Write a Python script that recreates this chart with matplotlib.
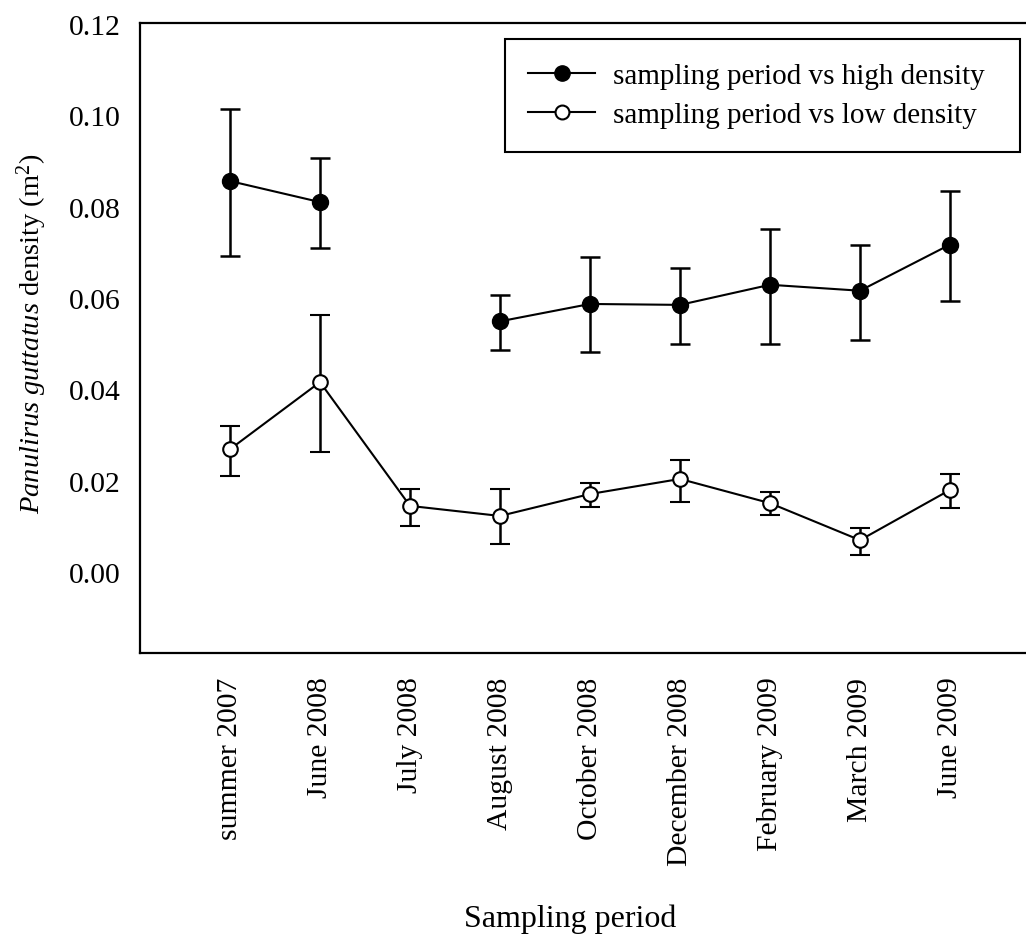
import numpy as np
import matplotlib
matplotlib.use("Agg")
import matplotlib.pyplot as plt
from matplotlib.lines import Line2D

plt.rcParams['font.family'] = ['Liberation Serif', 'DejaVu Serif']
plt.rcParams['mathtext.fontset'] = 'custom'
plt.rcParams['mathtext.rm'] = 'Liberation Serif'
plt.rcParams['mathtext.it'] = 'Liberation Serif:italic'

periods = ["summer 2007", "June 2008", "July 2008", "August 2008", "October 2008",
           "December 2008", "February 2009", "March 2009", "June 2009"]

high_mean = [0.0856, 0.0810, np.nan, 0.0549, 0.0587, 0.0585, 0.0629, 0.0616, 0.0717]
high_top = [0.1014, 0.0906, np.nan, 0.0607, 0.0689, 0.0666, 0.0751, 0.0717, 0.0835]
high_bot = [0.0692, 0.0710, np.nan, 0.0486, 0.0481, 0.0499, 0.0499, 0.0508, 0.0594]

low_mean = [0.0269, 0.0416, 0.0145, 0.0123, 0.0171, 0.0204, 0.0151, 0.0070, 0.0180]
low_top = [0.0320, 0.0563, 0.0182, 0.0182, 0.0195, 0.0246, 0.0175, 0.0096, 0.0215]
low_bot = [0.0211, 0.0264, 0.0100, 0.0061, 0.0143, 0.0154, 0.0126, 0.0038, 0.0140]

x = np.arange(len(periods))

fig = plt.figure(figsize=(10.26, 9.37), dpi=100)
ax = fig.add_axes([140 / 1026, 1 - 654 / 937, 900 / 1026, 630 / 937])

hm = np.array(high_mean)
herr = [hm - np.array(high_bot), np.array(high_top) - hm]
lm = np.array(low_mean)
lerr = [lm - np.array(low_bot), np.array(low_top) - lm]

ax.errorbar(x, hm, yerr=herr, color='black', marker='o', markersize=11.5,
            markerfacecolor='black', lw=1.5, elinewidth=1.8, capsize=7, capthick=1.8)
ax.errorbar(x, lm, yerr=lerr, color='black', marker='o', markersize=10.5,
            markerfacecolor='white', markeredgewidth=1.5, lw=1.5, elinewidth=1.8,
            capsize=7, capthick=1.8)

ax.set_xlim(-1, 9)
ax.set_ylim(-0.0177, 0.1202)
ax.set_yticks(np.arange(0, 0.121, 0.02))
ax.set_yticklabels([f"{v:.2f}" for v in np.arange(0, 0.121, 0.02)])
ax.set_xticks(x)
ax.set_xticklabels(periods, rotation=90)
ax.tick_params(length=0, labelsize=21.3)
ax.tick_params(axis='y', pad=14)
ax.tick_params(axis='x', pad=17)
for s in ax.spines.values():
    s.set_linewidth(1.6)

ax.set_ylabel(r"$\it{Panulirus\ guttatus}$ density (m$^2$)", fontsize=20.5)
ax.yaxis.set_label_coords(-0.1007, 0.508)
ax.set_xlabel("Sampling period", fontsize=23)
ax.xaxis.set_label_coords((570 - 140) / 900, -(905 - 654) / 630)

handles = [
    Line2D([], [], color='black', lw=1.5, marker='o', markersize=11,
           markerfacecolor='black'),
    Line2D([], [], color='black', lw=1.5, marker='o', markersize=10,
           markerfacecolor='white', markeredgewidth=1.5),
]
leg = ax.legend(handles, ["sampling period vs high density", "sampling period vs low density"],
                loc='upper left', mode='expand',
                bbox_to_anchor=(505 / 1026, 1 - 148 / 937, 515 / 1026, 108 / 937),
                bbox_transform=fig.transFigure, borderaxespad=0, fancybox=False,
                edgecolor='black', fontsize=21, handlelength=2.3, handletextpad=0.6,
                labelspacing=0.45, borderpad=0.8, framealpha=1)
leg.get_frame().set_linewidth(1.5)

fig.savefig("out.png", dpi=100)
